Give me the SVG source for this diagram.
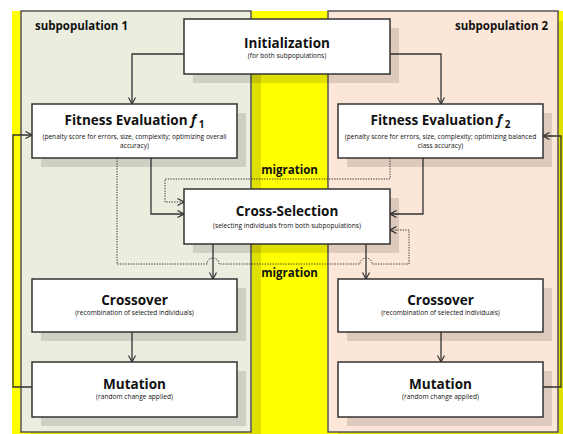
<svg xmlns="http://www.w3.org/2000/svg" width="563" height="434" viewBox="0 0 563 434">
<style>
.t{font-family:"Open Sans","Liberation Sans",sans-serif;font-weight:bold;font-size:13.5px;fill:#111;text-anchor:middle}
.s{font-family:"Open Sans","Liberation Sans",sans-serif;font-size:6.6px;fill:#111;text-anchor:middle}
.lab{font-family:"Open Sans","Liberation Sans",sans-serif;font-weight:bold;font-size:11.5px;fill:#111}
.mid{text-anchor:middle}
.box{fill:#fff;stroke:#333;stroke-width:1.5}
.sh{fill:#000;fill-opacity:0.12}
.panel{stroke:#555;stroke-width:1.5}
.c{fill:none;stroke:#333;stroke-width:1.3}
.d{fill:none;stroke:#333;stroke-width:1;stroke-dasharray:1.3,1.3}
</style>
<defs>
<marker id="a" viewBox="0 0 8 8" refX="7.5" refY="4" markerWidth="8" markerHeight="8" markerUnits="userSpaceOnUse" orient="auto">
<path d="M1,0.5 L7.5,4 L1,7.5" fill="none" stroke="#333" stroke-width="1.2"/>
</marker>
</defs>
<rect x="12" y="11" width="560" height="430" fill="#ffff00"/>
<g id="subpopulation1">
<rect x="31" y="21" width="230" height="421" class="sh"/>
<rect x="21" y="11" width="230" height="421" fill="#ebeddf" class="panel"/>
<text x="35" y="30" class="lab">subpopulation 1</text>
</g>
<g id="subpopulation2">
<rect x="338" y="21" width="230" height="421" class="sh"/>
<rect x="328" y="11" width="230" height="421" fill="#fce6d8" class="panel"/>
<text x="548" y="30" class="lab" text-anchor="end">subpopulation 2</text>
</g>
<text x="289.5" y="174" class="lab mid">migration</text>
<text x="289.5" y="277" class="lab mid">migration</text>
<g id="connectors">
<path class="c" d="M184,54 H132 V104" marker-end="url(#a)"/>
<path class="c" d="M390,54 H441 V104" marker-end="url(#a)"/>
<path class="c" d="M151,158 V214 H184" marker-end="url(#a)"/>
<path class="c" d="M423,158 V214 H390" marker-end="url(#a)"/>
<path class="c" d="M213,244 V279" marker-end="url(#a)"/>
<path class="c" d="M366,244 V279" marker-end="url(#a)"/>
<path class="c" d="M132,332 V362" marker-end="url(#a)"/>
<path class="c" d="M441,332 V362" marker-end="url(#a)"/>
<path class="c" d="M32,387 H13 V135 H32" marker-end="url(#a)"/>
<path class="c" d="M543,387 H561 V136 H543" marker-end="url(#a)"/>
<path class="d" d="M117,158 V264 H207 A6,6 0 0 1 219,264 H360 A6,6 0 0 1 372,264 H409 V230 H390" marker-end="url(#a)"/>
<path class="d" d="M390,158 V179 H165 V202 H184" marker-end="url(#a)"/>
</g>
<g id="initialization">
<rect x="193" y="28" width="206" height="55" class="sh"/>
<rect x="184" y="19" width="206" height="55" class="box"/>
<text x="287" y="48" class="t">Initialization</text>
<text x="287" y="58" class="s">(for both subpopulations)</text>
</g>
<g id="fitness1">
<rect x="41" y="113" width="205" height="54" class="sh"/>
<rect x="32" y="104" width="205" height="54" class="box"/>
<text x="134.5" y="125" class="t">Fitness Evaluation <tspan font-style="italic">f</tspan><tspan font-size="10" dy="3"> 1</tspan></text>
<text x="134.5" y="139" class="s">(penalty score for errors, size, complexity; optimizing overall</text>
<text x="134.5" y="148" class="s">accuracy)</text>
</g>
<g id="fitness2">
<rect x="347" y="113" width="205" height="54" class="sh"/>
<rect x="338" y="104" width="205" height="54" class="box"/>
<text x="440.5" y="125" class="t">Fitness Evaluation <tspan font-style="italic">f</tspan><tspan font-size="10" dy="3"> 2</tspan></text>
<text x="440.5" y="139" class="s">(penalty score for errors, size, complexity; optimizing balanced</text>
<text x="440.5" y="148" class="s">class accuracy)</text>
</g>
<g id="crossselection">
<rect x="193" y="198" width="206" height="55" class="sh"/>
<rect x="184" y="189" width="206" height="55" class="box"/>
<text x="287" y="216" class="t">Cross-Selection</text>
<text x="287" y="228" class="s">(selecting individuals from both subpopulations)</text>
</g>
<g id="crossover1">
<rect x="41" y="288" width="205" height="53" class="sh"/>
<rect x="32" y="279" width="205" height="53" class="box"/>
<text x="134.5" y="305" class="t">Crossover</text>
<text x="134.5" y="315" class="s">(recombination of selected individuals)</text>
</g>
<g id="mutation1">
<rect x="41" y="371" width="205" height="55" class="sh"/>
<rect x="32" y="362" width="205" height="55" class="box"/>
<text x="134.5" y="389" class="t">Mutation</text>
<text x="134.5" y="399" class="s">(random change applied)</text>
</g>
<g id="crossover2">
<rect x="347" y="288" width="205" height="53" class="sh"/>
<rect x="338" y="279" width="205" height="53" class="box"/>
<text x="440.5" y="305" class="t">Crossover</text>
<text x="440.5" y="315" class="s">(recombination of selected individuals)</text>
</g>
<g id="mutation2">
<rect x="347" y="371" width="205" height="55" class="sh"/>
<rect x="338" y="362" width="205" height="55" class="box"/>
<text x="440.5" y="389" class="t">Mutation</text>
<text x="440.5" y="399" class="s">(random change applied)</text>
</g>
</svg>
